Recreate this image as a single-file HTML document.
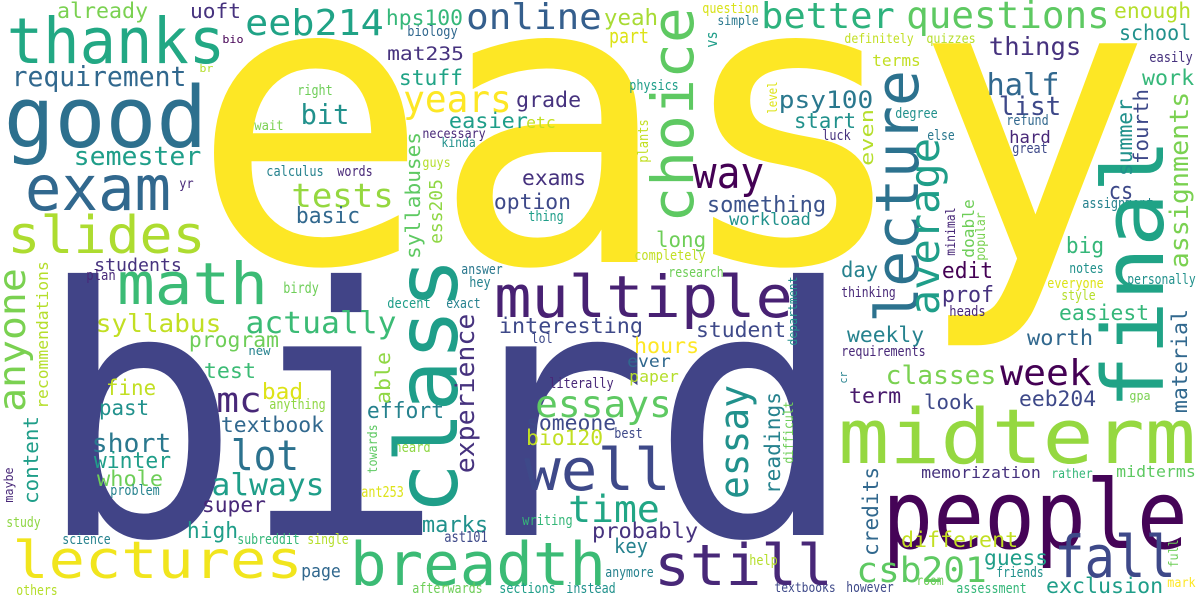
<!DOCTYPE html>
<html><head><meta charset="utf-8"><title>Word cloud</title>
<style>
html,body{margin:0;padding:0;background:#fff;}
svg{display:block;}
text{font-family:"DejaVu Sans Mono","Liberation Mono",monospace;}
</style></head>
<body>
<svg id="cloud" width="1200" height="600" viewBox="0 0 1200 600" xmlns="http://www.w3.org/2000/svg">
<rect width="1200" height="600" fill="#ffffff"/>
</svg>
<script>
// horizontal words: [text, inkLeft, inkRight, baselineY, fontSize, color]
const hWords = [
["easy",210,1133,262,400,"#fde725"],
["bird",53,838,535,345,"#414487"],
["thanks",10,222,63,63,"#22a884"],
["already",58,147,18,21,"#7ad151"],
["uoft",191,240,18,20,"#46327e"],
["eeb214",247,382,35,36,"#20a386"],
["hps100",387,462,25,21,"#35b779"],
["bio",223,243,43,11,"#440154"],
["mat235",388,463,60,19,"#46327e"],
["br",200,213,72,11,"#b5de2b"],
["requirement",13,185,86,28,"#31688e"],
["good",8,203,147,85,"#2d708e"],
["bit",302,348,124,28,"#21918c"],
["right",298,332,95,14,"#6ece58"],
["wait",255,283,130,13,"#7ad151"],
["semester",75,200,165,26,"#1f9e89"],
["calculus",267,323,176,14,"#26828e"],
["words",338,372,176,14,"#482878"],
["exam",28,168,210,62,"#31688e"],
["yr",180,193,188,13,"#482878"],
["tests",293,392,207,33,"#95d840"],
["slides",10,203,253,52,"#addc30"],
["basic",297,359,223,22,"#31688e"],
["students",95,181,271,18,"#46327e"],
["plan",87,115,280,14,"#482878"],
["birdy",284,318,293,15,"#6ece58"],
["math",120,265,304,58,"#3bbb75"],
["online",468,600,29,36,"#355f8d"],
["yeah",605,657,25,22,"#a8db34"],
["question",703,758,13,14,"#d8e219"],
["simple",718,758,25,13,"#2a788e"],
["biology",408,457,36,14,"#31688e"],
["part",610,648,43,20,"#dde318"],
["better",763,893,28,36,"#2db27d"],
["years",405,510,112,37,"#fde725"],
["stuff",400,462,85,21,"#20a386"],
["grade",517,580,107,21,"#46327e"],
["easier",450,527,128,21,"#1f9e89"],
["etc",527,555,128,16,"#c2df23"],
["necessary",423,485,138,13,"#482878"],
["kinda",442,475,147,13,"#21918c"],
["guys",423,450,167,13,"#b5de2b"],
["exams",523,585,185,21,"#46327e"],
["option",495,570,209,21,"#3e4989"],
["thing",529,563,221,14,"#1f9e89"],
["physics",630,678,90,14,"#1f9e89"],
["way",695,762,188,44,"#440154"],
["long",657,705,247,21,"#6ece58"],
["completely",635,705,260,14,"#c2df23"],
["something",708,825,212,22,"#3b528b"],
["workload",730,810,225,17,"#21918c"],
["answer",462,502,274,14,"#2a788e"],
["hey",470,490,287,14,"#26828e"],
["research",669,723,277,14,"#6ece58"],
["psy100",780,872,108,24,"#2a788e"],
["start",795,855,128,21,"#21918c"],
["questions",908,1108,28,37,"#5ec962"],
["enough",1115,1190,18,21,"#b5de2b"],
["definitely",845,913,43,13,"#c2df23"],
["quizzes",927,975,43,13,"#b5de2b"],
["things",990,1080,55,25,"#46327e"],
["school",1120,1190,40,21,"#21918c"],
["terms",873,920,66,16,"#c2df23"],
["easily",1150,1192,62,14,"#46327e"],
["half",988,1058,95,30,"#31688e"],
["work",1143,1193,85,21,"#35b779"],
["list",1000,1060,115,26,"#3e4989"],
["refund",1007,1048,125,14,"#31688e"],
["hard",1010,1050,143,17,"#482878"],
["great",1013,1047,153,14,"#3e4989"],
["degree",896,937,118,14,"#21918c"],
["luck",823,850,140,14,"#46327e"],
["else",928,954,140,14,"#2a788e"],
["cs",1110,1132,199,24,"#3e4989"],
["assignment",1083,1153,208,14,"#26828e"],
["big",1067,1103,253,22,"#35b779"],
["notes",1070,1103,273,14,"#21918c"],
["personally",1128,1195,284,14,"#21918c"],
["everyone",1048,1103,288,14,"#dde318"],
["style",1062,1095,300,14,"#b5de2b"],
["heads",950,985,316,14,"#482878"],
["edit",943,992,278,22,"#440154"],
["prof",943,993,302,22,"#46327e"],
["day",842,877,277,21,"#26828e"],
["thinking",842,895,297,14,"#482878"],
["easiest",1060,1148,320,21,"#35b779"],
["weekly",848,923,342,21,"#26828e"],
["worth",1028,1092,345,21,"#31688e"],
["requirements",842,925,356,14,"#482878"],
["classes",887,995,384,26,"#7ad151"],
["week",1002,1090,385,36,"#440154"],
["term",850,900,403,21,"#481a6c"],
["look",925,973,409,20,"#3e4989"],
["eeb204",1020,1095,406,21,"#3e4989"],
["gpa",1130,1150,400,12,"#7ad151"],
["midterm",842,1192,463,76,"#95d840"],
["memorization",922,1040,478,16,"#46327e"],
["rather",1052,1092,478,13,"#35b779"],
["midterms",1117,1195,477,16,"#5ec962"],
["people",887,1183,548,95,"#450457"],
["different",902,1017,547,21,"#c2df23"],
["guess",985,1047,565,21,"#1f9e89"],
["friends",997,1043,577,14,"#21918c"],
["fall",1057,1173,577,58,"#3e4989"],
["csb201",858,985,582,35,"#5ec962"],
["exclusion",1047,1162,593,21,"#1f9e89"],
["mark",1168,1195,587,13,"#fde725"],
["however",847,893,592,14,"#3e4989"],
["room",917,943,585,13,"#6ece58"],
["assessment",957,1026,593,14,"#35b779"],
["textbooks",775,835,592,13,"#3e4989"],
["syllabus",97,220,332,25,"#c2df23"],
["actually",247,395,333,30,"#3bbb75"],
["program",190,278,347,21,"#6ece58"],
["new",249,270,355,12,"#26828e"],
["test",205,255,378,21,"#3bbb75"],
["fine",107,155,395,21,"#c2df23"],
["bad",263,302,399,22,"#dde318"],
["mc",218,260,412,35,"#482878"],
["anything",270,325,409,14,"#8fd744"],
["past",100,148,415,21,"#21918c"],
["effort",368,443,418,22,"#26828e"],
["textbook",222,323,432,21,"#31688e"],
["short",93,170,452,26,"#2a788e"],
["lot",233,297,470,42,"#2c728e"],
["winter",95,170,468,22,"#1f9e89"],
["whole",98,162,486,21,"#6ece58"],
["always",213,323,495,30,"#1f9e89"],
["problem",111,159,495,14,"#26828e"],
["ant253",362,403,497,15,"#dde318"],
["super",203,265,512,21,"#482878"],
["study",7,40,527,14,"#8fd744"],
["high",188,237,538,22,"#1f9e89"],
["science",63,110,544,14,"#26828e"],
["subreddit",238,299,544,14,"#35b779"],
["single",308,348,544,14,"#b5de2b"],
["lectures",15,300,578,52,"#f1e51d"],
["page",302,340,577,18,"#31688e"],
["others",17,57,595,14,"#b5de2b"],
["breadth",353,603,585,60,"#3bbb75"],
["decent",388,430,308,14,"#1f9e89"],
["exact",447,480,308,14,"#26828e"],
["multiple",497,790,317,58,"#482173"],
["interesting",500,642,333,21,"#3e4989"],
["student",697,785,337,21,"#3e4989"],
["lol",532,552,343,13,"#3e4989"],
["hours",635,698,353,21,"#fde725"],
["ever",628,670,367,17,"#31688e"],
["paper",630,678,382,16,"#b5de2b"],
["literally",550,613,388,14,"#482878"],
["essays",537,670,417,37,"#5ec962"],
["someone",527,615,430,21,"#3e4989"],
["bio120",527,602,445,21,"#c2df23"],
["best",615,642,438,14,"#3e4989"],
["heard",395,430,452,14,"#8fd744"],
["well",527,668,490,58,"#3e4989"],
["time",570,658,522,37,"#21a685"],
["marks",423,487,532,22,"#21918c"],
["writing",523,572,525,14,"#35b779"],
["probably",593,697,538,21,"#46327e"],
["ast101",445,487,542,15,"#3e4989"],
["key",615,647,553,20,"#26828e"],
["still",657,830,585,57,"#482878"],
["help",750,777,565,14,"#b5de2b"],
["anymore",606,653,577,14,"#26828e"],
["afterwards",413,482,593,14,"#6ece58"],
["sections",500,555,593,14,"#1f9e89"],
["instead",567,615,593,14,"#21918c"]
];
// vertical words (read bottom to top): [text, inkBottomY, inkTopY, baselineX, fontSize, color]
const vWords = [
["class",510,262,457,86,"#1f9e89"],
["final",405,143,1163,85,"#20a386"],
["lecture",320,73,918,60,"#2c728e"],
["choice",220,10,693,58,"#5ec962"],
["average",313,140,939,41,"#1f9e89"],
["anyone",410,270,25,37,"#7ad151"],
["recommendations",408,262,48,16,"#b5de2b"],
["syllabuses",258,133,420,20,"#5ec962"],
["ess205",243,180,442,18,"#8fd744"],
["vs",47,32,717,16,"#1f9e89"],
["plants",162,120,648,14,"#c2df23"],
["level",113,82,777,13,"#dde318"],
["even",165,110,873,18,"#b5de2b"],
["minimal",255,208,955,13,"#482878"],
["doable",257,200,974,16,"#6ece58"],
["popular",260,213,985,13,"#7ad151"],
["summer",175,100,1132,21,"#21918c"],
["fourth",163,90,1148,20,"#3e4989"],
["assignments",267,93,1188,26,"#7ad151"],
["cr",383,372,847,11,"#26828e"],
["material",412,310,1187,21,"#31688e"],
["credits",555,468,878,21,"#31688e"],
["full",567,540,1178,13,"#6ece58"],
["able",403,353,390,20,"#8fd744"],
["towards",473,425,377,13,"#5ec962"],
["content",503,417,38,20,"#1f9e89"],
["maybe",502,468,13,12,"#482878"],
["experience",472,315,474,26,"#46327e"],
["essay",497,387,748,40,"#21918c"],
["readings",493,393,780,21,"#26828e"],
["difficult",463,402,793,13,"#6ece58"],
["department",345,277,797,12,"#21918c"]
];

const NS = "http://www.w3.org/2000/svg";
const svg = document.getElementById("cloud");
function slug(s){ return "word-" + s.replace(/[^a-z0-9]+/gi,"-").toLowerCase(); }

hWords.forEach(function(w){
  const f = w[4];
  const t = document.createElementNS(NS,"text");
  t.setAttribute("x", (w[1] - 0.05*f).toFixed(1));
  t.setAttribute("y", w[3]);
  t.setAttribute("font-size", f);
  t.setAttribute("fill", w[5]);
  t.setAttribute("textLength", ((w[2]-w[1]) + 0.1*f).toFixed(1));
  t.setAttribute("lengthAdjust", "spacingAndGlyphs");
  t.textContent = w[0];
  
  
  svg.appendChild(t);
});

vWords.forEach(function(w){
  const f = w[4];
  const t = document.createElementNS(NS,"text");
  t.setAttribute("x", 0);
  t.setAttribute("y", 0);
  t.setAttribute("transform", "translate(" + w[3] + "," + (w[1] + 0.05*f).toFixed(1) + ") rotate(-90)");
  t.setAttribute("font-size", f);
  t.setAttribute("fill", w[5]);
  t.setAttribute("textLength", ((w[1]-w[2]) + 0.1*f).toFixed(1));
  t.setAttribute("lengthAdjust", "spacingAndGlyphs");
  t.textContent = w[0];
  
  
  svg.appendChild(t);
});
</script>
</body></html>
